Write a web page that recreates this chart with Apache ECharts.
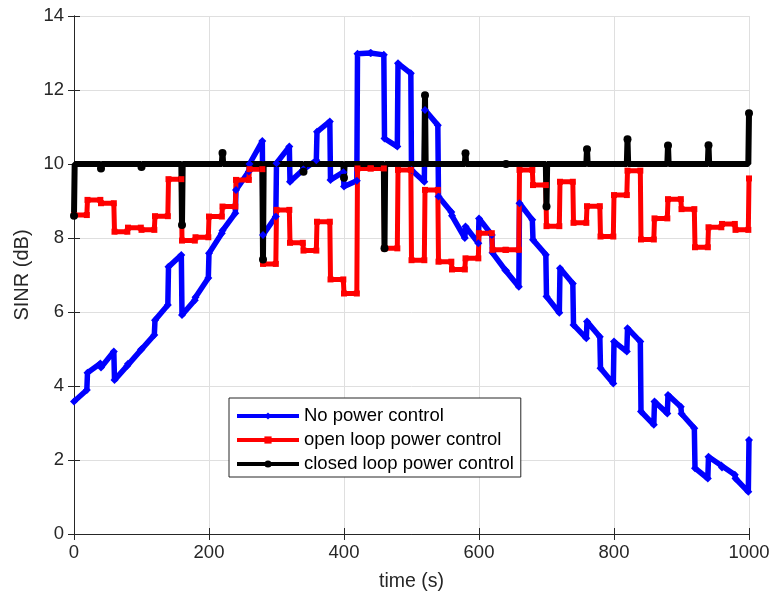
<!DOCTYPE html>
<html>
<head>
<meta charset="utf-8">
<script src="https://cdn.jsdelivr.net/npm/echarts@6/dist/echarts.min.js"></script>
<style>
html,body{margin:0;padding:0;background:#fff;}
#main{width:774px;height:601px;}
</style>
</head>
<body>
<div id="main"></div>
<script>
// each segment lasts 20 s (samples 20k .. 20k+19), one extra sample at t=1000
var segLen = 20;
var blueStart = [3.58,4.36,4.50,4.16,4.60,5.00,5.78,7.22,5.92,6.40,
                 7.59,8.20,9.30,10.00,8.08,10.02,9.52,9.85,10.87,9.57,
                 9.39,12.98,13.00,10.69,12.72,9.84,11.46,9.12,8.60,8.31,
                 8.53,7.60,7.12,8.94,7.95,6.42,7.18,5.65,5.74,4.48,
                 5.20,5.56,3.31,3.58,3.76,3.25,1.78,2.09,1.80,1.50];
var blueEnd =   [3.89,4.61,4.93,4.55,4.97,5.38,6.19,7.54,6.32,6.92,
                 8.13,8.67,9.80,10.62,8.58,10.47,9.84,10.10,11.15,9.78,
                 9.55,13.00,12.95,10.47,12.45,9.52,11.05,8.70,8.00,7.86,
                 8.08,7.13,6.68,8.49,7.55,5.98,6.77,5.29,5.33,4.07,
                 4.93,5.20,2.95,3.26,3.44,2.86,1.50,1.85,1.60,1.14];
var blueLast = 2.54;

var redSeg = [8.62,9.03,8.94,8.17,8.28,8.22,8.59,9.59,7.93,8.02,
              8.58,8.85,9.57,9.86,7.30,8.76,7.87,7.66,8.44,6.88,
              6.50,9.88,9.88,7.72,9.84,7.40,9.30,7.36,7.15,7.45,
              8.13,7.68,7.68,9.84,9.43,8.32,9.52,8.41,8.86,8.04,
              9.16,9.82,7.96,8.53,9.05,8.78,7.75,8.29,8.38,8.22];
var redLast = 9.61;

var blackBase = 10;
var spikeT = [0,40,100,160,220,280,340,400,460,520,580,640,700,760,820,880,940,1000];
var spikeV = [8.6,9.88,9.92,8.35,10.3,7.42,9.79,9.63,7.72,11.86,10.29,10.0,8.85,10.4,10.67,10.5,10.51,11.37];

var blueData = [], redData = [], blackData = [];
for (var k = 0; k < blueStart.length; k++) {
    blueData.push([k*segLen, blueStart[k]]);
    blueData.push([k*segLen+segLen-1, blueEnd[k]]);
    redData.push([k*segLen, redSeg[k]]);
    redData.push([k*segLen+segLen-1, redSeg[k]]);
}
blueData.push([1000, blueLast]);
redData.push([1000, redLast]);

for (var i = 0; i < spikeT.length; i++) {
    var t = spikeT[i];
    if (t > 0) blackData.push({value:[t-1, blackBase], symbol:'none'});
    blackData.push({value:[t, spikeV[i]]});
    if (t < 1000) blackData.push({value:[t+1, blackBase], symbol:'none'});
}

var dom = document.getElementById('main');
var myChart = echarts.init(dom, null, {renderer:'canvas'});
var axisColor = '#262626';
var font = 'Liberation Sans, Arial, Helvetica, sans-serif';
var tickFont = 18.5;

var option = {
    backgroundColor: '#fff',
    animation: false,
    grid: {left: 74, right: 25, top: 16, bottom: 67, containLabel: false},
    legend: {
        orient: 'vertical',
        left: 229, top: 398,
        itemWidth: 62, itemHeight: 9, itemGap: 4,
        padding: [8, 7, 3, 6],
        backgroundColor: '#fff',
        borderColor: axisColor, borderWidth: 1,
        lineStyle: {width: 4},
        textStyle: {fontFamily: font, fontSize: 18.5, lineHeight: 20, color: '#000'},
        data: ['No power control', 'open loop power control', 'closed loop power control']
    },
    xAxis: [{
        type: 'value', min: 0, max: 1000, interval: 200,
        name: 'time (s)', nameLocation: 'middle', nameGap: 38,
        nameTextStyle: {fontFamily: font, fontSize: 19.5, color: axisColor},
        axisLine: {show: true, lineStyle: {color: axisColor, width: 1}},
        axisTick: {show: true, inside: true, length: 6, lineStyle: {color: axisColor}},
        axisLabel: {fontFamily: font, fontSize: tickFont, color: axisColor, margin: 9,
                    formatter: function (v) { return String(v); }},
        splitLine: {show: true, lineStyle: {color: '#dfdfdf', width: 1}}
    }, {
        type: 'value', position: 'top', min: 0, max: 1000, interval: 200,
        axisLine: {show: true, lineStyle: {color: axisColor, width: 1}},
        axisTick: {show: true, inside: true, length: 6, lineStyle: {color: axisColor}},
        axisLabel: {show: false}, splitLine: {show: false}
    }],
    yAxis: [{
        type: 'value', min: 0, max: 14, interval: 2,
        name: 'SINR (dB)', nameLocation: 'middle', nameGap: 42,
        nameTextStyle: {fontFamily: font, fontSize: 20, color: axisColor},
        axisLine: {show: true, lineStyle: {color: axisColor, width: 1}},
        axisTick: {show: true, inside: true, length: 6, lineStyle: {color: axisColor}},
        axisLabel: {fontFamily: font, fontSize: tickFont, color: axisColor, margin: 10},
        splitLine: {show: true, lineStyle: {color: '#dfdfdf', width: 1}}
    }, {
        type: 'value', position: 'right', min: 0, max: 14, interval: 2,
        axisLine: {show: true, lineStyle: {color: axisColor, width: 1}},
        axisTick: {show: true, inside: true, length: 6, lineStyle: {color: axisColor}},
        axisLabel: {show: false}, splitLine: {show: false}
    }],
    series: [
        {
            name: 'No power control', type: 'line', data: blueData,
            symbol: 'diamond', symbolSize: 8, showAllSymbol: true,
            lineStyle: {color: '#0000ff', width: 5.5},
            itemStyle: {color: '#0000ff'}
        },
        {
            name: 'open loop power control', type: 'line', data: redData,
            symbol: 'rect', symbolSize: 6, showAllSymbol: true,
            lineStyle: {color: '#ff0000', width: 5},
            itemStyle: {color: '#ff0000'}
        },
        {
            name: 'closed loop power control', type: 'line', data: blackData,
            symbol: 'circle', symbolSize: 8, showAllSymbol: true,
            lineStyle: {color: '#000000', width: 6},
            itemStyle: {color: '#000000'}
        }
    ]
};

if (option && typeof option === "object") {
    myChart.setOption(option, true);
}
</script>
</body>
</html>
